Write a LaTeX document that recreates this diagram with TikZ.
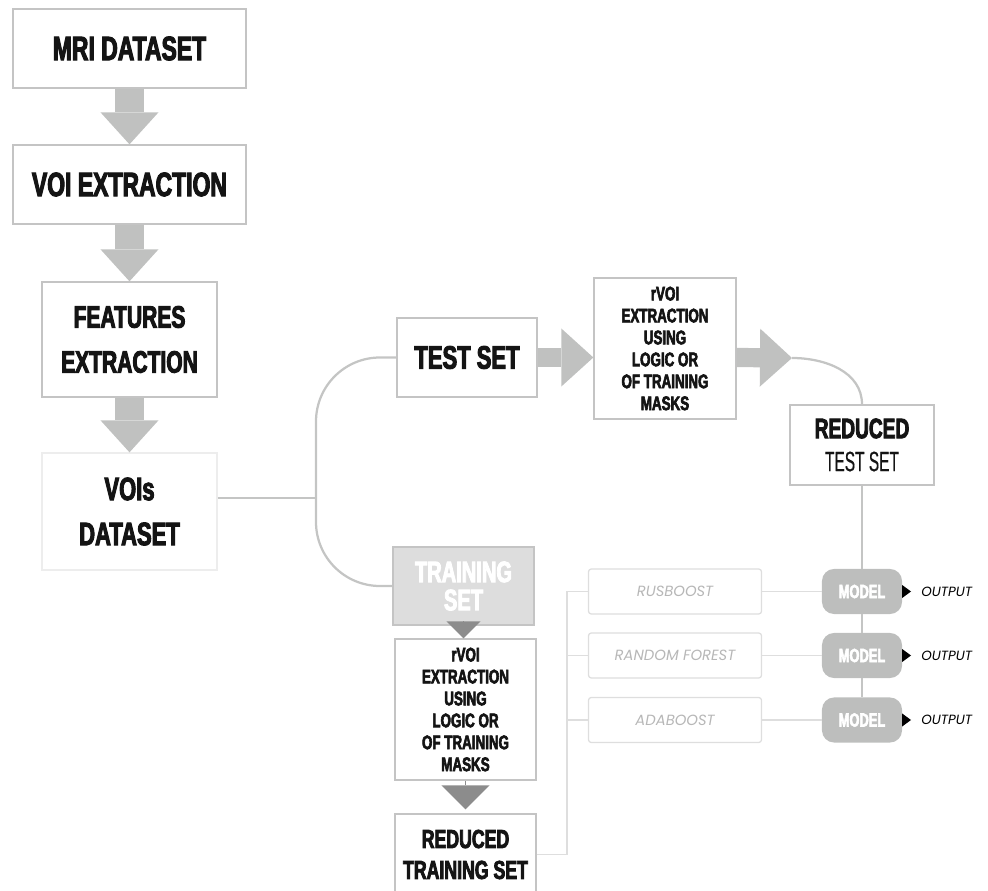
\documentclass[tikz,border=0pt]{standalone}
\usepackage{xcolor}
\usepackage{fontspec}
\usepackage{tikz}
\usetikzlibrary{arrows.meta}

\newfontfamily\impactfont{Liberation Sans}[UprightFont={* Bold},FakeStretch=0.68,FakeBold=3]
\newfontfamily\condfont{Liberation Sans}[FakeStretch=0.55,FakeBold=0.3]
\newfontfamily\geofont{Poppins}
\newcommand{\impact}[2]{\impactfont\fontsize{#1}{#2}\selectfont}

\definecolor{arrowgray}{RGB}{192,193,192}
\definecolor{boxline}{RGB}{196,196,196}
\definecolor{linkgray}{RGB}{196,197,196}
\definecolor{darktri}{RGB}{140,140,140}
\definecolor{trainfill}{RGB}{221,221,221}
\definecolor{clsline}{RGB}{222,222,222}
\definecolor{clstext}{RGB}{183,183,183}
\definecolor{modelfill}{RGB}{189,190,189}

\begin{document}
\begin{tikzpicture}[x=0.025cm, y=-0.025cm,
    box/.style={draw=boxline, line width=0.9pt, fill=white, rectangle, align=center, inner sep=0pt, text=black!92},
    fatarrow/.style={draw=arrowgray, line width=0.7cm, -{Triangle[width=1.45cm,length=0.8cm,line width'=0pt]}},
    sidearrow/.style={fatarrow, line width=0.48cm},
    darkarrow/.style={draw=darktri, line width=0.2pt, -{Triangle[width=#1,length=0.5*#1,line width'=0pt]}},
    link/.style={draw=linkgray, line width=1.6pt},
    thinlink/.style={draw=clsline, line width=1.2pt},
    clsbox/.style={draw=clsline, line width=0.9pt, fill=white, rounded corners=2pt, minimum width=4.325cm, minimum height=1.125cm, inner sep=0pt, text=clstext, font=\geofont\itshape\fontsize{10.5}{12}\selectfont},
    modelbox/.style={fill=modelfill, rounded corners=0.3cm, minimum width=2cm, minimum height=1.125cm, inner sep=0pt, text=white, font=\impact{13.5}{16}},
    outtip/.style={draw=black, line width=0.2pt, shorten >=0.25cm, -{Triangle[width=0.33cm,length=0.225cm,line width'=0pt]}},
    outtext/.style={anchor=west, inner sep=0pt, font=\geofont\itshape\fontsize{9.5}{11}\selectfont}]
    \useasboundingbox (0,0) rectangle (988,891);

    % Left column
    \node[box, minimum width=5.825cm, minimum height=1.975cm, font=\impact{24}{28}] (mri) at (129.5,48.5) {MRI DATASET};
    \node[box, minimum width=5.825cm, minimum height=1.975cm, font=\impact{24}{28}] (voiext) at (129.5,184.5) {VOI EXTRACTION};
    \node[box, minimum width=4.375cm, minimum height=2.875cm, font=\impact{22}{32}] (feat) at (129.5,339.5) {FEATURES\\EXTRACTION};
    \node[box, draw=black!7, minimum width=4.375cm, minimum height=2.925cm, font=\impact{23}{32}] (vois) at (129.5,511.5) {VOIs\\DATASET};

    \draw[fatarrow] (mri.south) -- (voiext.north);
    \draw[fatarrow] (voiext.south) -- (feat.north);
    \draw[fatarrow] (feat.south) -- (vois.north);

    % Test branch
    \node[box, minimum width=3.5cm, minimum height=1.975cm, font=\impact{23}{28}] (testset) at (467,357.5) {TEST SET};
    \node[box, minimum width=3.55cm, minimum height=3.525cm, font=\impact{14}{15.6}] (testrvoi) at (665,348.5) {rVOI\\EXTRACTION\\USING\\LOGIC OR\\OF TRAINING\\MASKS};
    \node[box, minimum width=3.6cm, minimum height=2cm, font=\impact{20}{23.5}] (redtest) at (862,445) {REDUCED\\{\condfont TEST SET}};
    \coordinate (tiptest) at (792,358);

    \draw[sidearrow] (testset.east) -- (testset.east -| testrvoi.west);
    \draw[sidearrow] (testrvoi.east |- testset.east) -- (tiptest);
    \draw[link] (tiptest) to[out=0, in=90] (redtest.north);

    % Split
    \coordinate (split) at (316,498);
    \draw[link] (vois.east |- split) -- (split);
    \draw[link, rounded corners=1.6cm] (split) |- (testset.west);

    % Training branch
    \node[box, fill=trainfill, minimum width=3.525cm, minimum height=1.95cm, text=white, font=\impact{21}{20}] (trainset) at (463.5,586) {TRAINING\\SET};
    \node[box, minimum width=3.525cm, minimum height=3.525cm, font=\impact{14}{15.6}] (trrvoi) at (465.5,709.5) {rVOI\\EXTRACTION\\USING\\LOGIC OR\\OF TRAINING\\MASKS};
    \node[box, minimum width=3.525cm, minimum height=2.025cm, font=\impact{18.5}{22}] (redtrain) at (465.5,854.5) {REDUCED\\TRAINING SET};

    \draw[link, rounded corners=1.6cm] (split) |- (trainset.west);
    \draw[darkarrow=0.85cm] (trainset.south) -- (trainset.south |- trrvoi.north);
    \draw[darkarrow=1.2cm, shorten >=0.1cm] (trrvoi.south) -- (redtrain.north);

    % Classifiers
    \node[clsbox] (rus) at (675,591.5) {RUSBOOST};
    \node[clsbox] (rf) at (675,655.5) {RANDOM FOREST};
    \node[clsbox] (ada) at (675,720) {ADABOOST};

    \coordinate (bus) at (567,591.5);
    \draw[thinlink] (redtrain.east) -| (bus) -- (rus.west);
    \draw[thinlink] (bus |- rf.west) -- (rf.west);
    \draw[thinlink] (bus |- ada.west) -- (ada.west);

    % Models
    \node[modelbox] (model1) at (862,591.5) {MODEL};
    \node[modelbox] (model2) at (862,655.5) {MODEL};
    \node[modelbox] (model3) at (862,720) {MODEL};

    \draw[link] (redtest.south) -- (model1.north);
    \draw[link] (model1.south) -- (model2.north);
    \draw[link] (model2.south) -- (model3.north);
    \draw[thinlink] (rus) -- (model1);
    \draw[thinlink] (rf) -- (model2);
    \draw[thinlink] (ada) -- (model3);

    % Outputs
    \node[outtext] (out1) at (921,591.5) {OUTPUT};
    \node[outtext] (out2) at (921,655.5) {OUTPUT};
    \node[outtext] (out3) at (921,720) {OUTPUT};

    \draw[outtip] (model1.east) -- (out1.west);
    \draw[outtip] (model2.east) -- (out2.west);
    \draw[outtip] (model3.east) -- (out3.west);
\end{tikzpicture}
\end{document}
